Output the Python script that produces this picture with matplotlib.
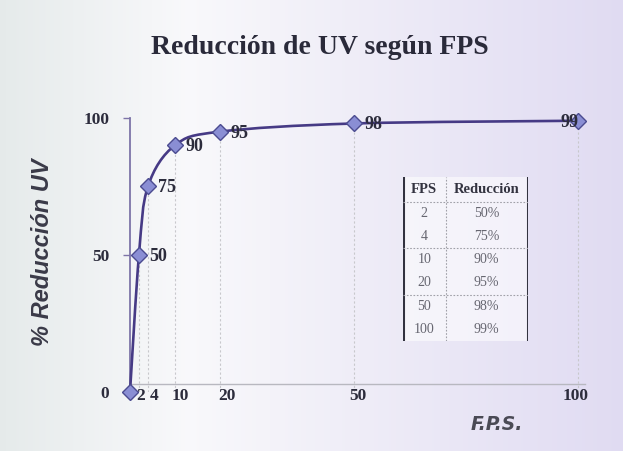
import numpy as np
import matplotlib
matplotlib.use("Agg")
import matplotlib.pyplot as plt
from matplotlib.path import Path
from matplotlib.patches import PathPatch
from matplotlib.transforms import offset_copy

# ---- data ----
fps = [0, 2, 4, 10, 20, 50, 100]
reduction = [0, 50, 75, 90, 95, 98, 99]
point_labels = ["", "50", "75", "90", "95", "98", "99"]
xtick_vals = [2, 4, 10, 20, 50, 100]
xtick_labels = ["2", "4", "10", "20", "50", "100"]
ytick_vals = [0, 50, 100]
table_fps = ["2", "4", "10", "20", "50", "100"]
table_red = ["50%", "75%", "90%", "95%", "98%", "99%"]
title = "Reducción de UV según FPS"
ylabel = "% Reducción UV"
xlabel = "F.P.S."

# label nudges (points) – styling only
xtick_nudge = [1.5, 4.3, 3.6, 5.0, 3.0, -2.0]

W, H = 623, 451
fig = plt.figure(figsize=(W / 100, H / 100), dpi=100)

# background gradient
bg = fig.add_axes([0, 0, 1, 1], zorder=-10)
bg.axis("off")
xs = np.linspace(0, 1, 300)
left = np.array([0.90, 0.92, 0.92])
mid = np.array([0.975, 0.975, 0.985])
right = np.array([0.88, 0.86, 0.95])
cols = np.array([left + (mid - left) * (x / 0.3) if x < 0.3 else mid + (right - mid) * ((x - 0.3) / 0.7) for x in xs])
img = np.tile(cols[None, :, :], (40, 1, 1))
bg.imshow(img, aspect="auto", extent=[0, 1, 0, 1])

ax = fig.add_axes([130 / W, 1 - 392 / H, (585 - 130) / W, (392 - 118) / H])
ax.patch.set_alpha(0)
ax.set_xlim(0, 101.5)
ax.set_ylim(0, 100)

line_col = "#463a85"

# drop lines
for x, y in zip(fps[1:], reduction[1:]):
    ax.plot([x, x], [0, y], color="#c8c8cc", lw=0.8, ls=(0, (2, 2)), zorder=1)

# smoothed line (spreadsheet-style bezier smoothing)
P = np.column_stack([fps, reduction]).astype(float)
verts = [P[0]]
codes = [Path.MOVETO]
n = len(P)
for i in range(n - 1):
    p0 = P[i - 1] if i > 0 else P[i]
    p1, p2 = P[i], P[i + 1]
    p3 = P[i + 2] if i + 2 < n else P[i + 1]
    c1 = p1 + (p2 - p0) / 6
    c2 = p2 - (p3 - p1) / 6
    verts += [c1, c2, p2]
    codes += [Path.CURVE4] * 3
ax.add_patch(PathPatch(Path(verts, codes), fill=False, edgecolor=line_col, lw=1.9, zorder=3, clip_on=False))

ax.plot(fps, reduction, ls="none", marker="D", ms=8, mfc="#8a8ed4", mec="#4b4b90", mew=1.0, zorder=4, clip_on=False)

serif = "Liberation Serif"
for i, (x, y, t) in enumerate(zip(fps, reduction, point_labels)):
    if t:
        last = i == len(fps) - 1
        ax.annotate(t, (x, y), xytext=(0.5 if last else 7.5, -1), textcoords="offset points",
                    ha="right" if last else "left", va="center",
                    fontsize=13, fontweight="bold", family=serif, color="#2c2c3c", zorder=5)

# axes styling
for s in ["top", "right"]:
    ax.spines[s].set_visible(False)
ax.spines["left"].set_color("#7d74a8")
ax.spines["left"].set_linewidth(1.3)
ax.spines["bottom"].set_position(("data", 3))
ax.spines["bottom"].set_color("#b8b8c0")
ax.spines["bottom"].set_linewidth(1.0)
ax.set_xticks(xtick_vals)
ax.set_xticklabels(xtick_labels)
ax.set_yticks(ytick_vals)
ax.tick_params(axis="x", length=0, pad=3, labelsize=12.5, labelcolor="#2c2c3c")
ax.tick_params(axis="y", length=5, width=1, color="#7d74a8", pad=10, labelsize=12.5, labelcolor="#2c2c3c")
for lab in ax.get_xticklabels() + ax.get_yticklabels():
    lab.set_family(serif)
    lab.set_fontweight("bold")
for lab, dx in zip(ax.get_xticklabels(), xtick_nudge):
    lab.set_transform(offset_copy(lab.get_transform(), fig=fig, x=dx, y=0, units="points"))

fig.text(320 / W, 1 - 48 / H, title, ha="center", va="center", fontsize=20, fontweight="bold",
         family=serif, color="#2a2a3a")
fig.text(43 / W, 1 - 252 / H, ylabel, ha="center", va="center", rotation=90, fontsize=17,
         fontweight="bold", style="italic", family="Liberation Sans", color="#3a3a48")
fig.text(497 / W, 1 - 425 / H, xlabel, ha="center", va="center", fontsize=13.5,
         fontweight="bold", style="italic", family="DejaVu Sans", color="#4a4a55")

# table
tab = fig.add_axes([403 / W, 1 - 341 / H, (528 - 403) / W, (341 - 177) / H])
tab.set_xlim(0, 1)
tab.set_ylim(0, 1)
tab.axis("off")
tab.add_patch(plt.Rectangle((0, 0), 1, 1, facecolor="white", alpha=0.55, edgecolor="none"))
nrows = len(table_fps)
hdr = 0.15
rh = (1 - hdr) / nrows
divx = 0.34
tab.plot([0, 0], [0, 1], color="#333340", lw=2.2)
tab.plot([1, 1], [0, 1], color="#333340", lw=2.2)
tab.plot([divx, divx], [0, 1], color="#a0a0a8", lw=0.8, ls=(0, (1.5, 1.5)))
for yv in [1 - hdr, 1 - hdr - 2 * rh, 1 - hdr - 4 * rh]:
    tab.plot([0, 1], [yv, yv], color="#a0a0a8", lw=0.8, ls=(0, (1.5, 1.5)))
tab.text(divx / 2, 1 - hdr / 2, "FPS", ha="center", va="center", fontsize=10.5, fontweight="bold",
         family=serif, color="#333340")
tab.text((1 + divx) / 2, 1 - hdr / 2, "Reducción", ha="center", va="center", fontsize=10.5,
         fontweight="bold", family=serif, color="#333340")
for i, (a, b) in enumerate(zip(table_fps, table_red)):
    y = 1 - hdr - (i + 0.5) * rh
    tab.text(divx / 2, y, a, ha="center", va="center", fontsize=10, family=serif, color="#666670")
    tab.text((1 + divx) / 2, y, b, ha="center", va="center", fontsize=10, family=serif, color="#666670")

fig.savefig("out.png", dpi=100)
